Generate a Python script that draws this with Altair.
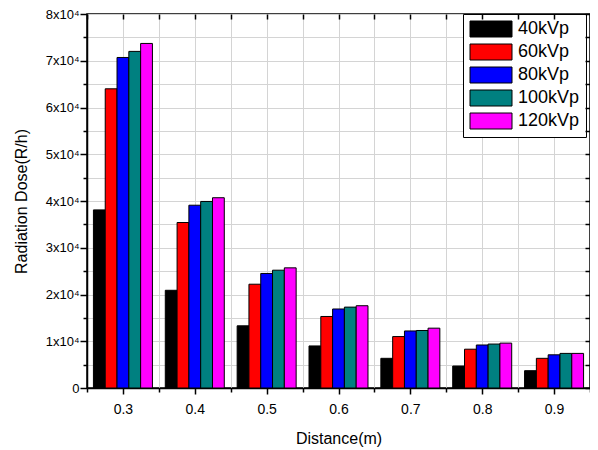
import altair as alt
import pandas as pd

distances = [0.3, 0.4, 0.5, 0.6, 0.7, 0.8, 0.9]
series = ["40kVp", "60kVp", "80kVp", "100kVp", "120kVp"]
colors = ["#000000", "#FF0000", "#0000FF", "#008080", "#FF00FF"]
v40 = [38100, 20900, 13300, 9000, 6350, 4700, 3700]
v60 = [64000, 35400, 22200, 15300, 11000, 8300, 6350]
v80 = [70700, 39100, 24500, 16900, 12200, 9200, 7100]
v100 = [72000, 39900, 25200, 17300, 12300, 9400, 7400]
v120 = [73700, 40700, 25700, 17600, 12800, 9600, 7400]
x_ticks = [round(0.25 + 0.05 * i, 2) for i in range(15)]
y_ticks = list(range(0, 80001, 5000))

vals = [v40, v60, v80, v100, v120]
rows = []
for s, vs in zip(series, vals):
    for d, v in zip(distances, vs):
        rows.append({"dist": d, "series": s, "value": v})
df = pd.DataFrame(rows)

FONT = "Liberation Sans"
yscale = alt.Scale(domain=[0, 80000], nice=False, zero=True)
xq = alt.Scale(domain=[0.25, 0.95], nice=False, zero=False)

axes_layer = alt.Chart(df).mark_point(opacity=0).encode(
    x=alt.X("dist:Q", scale=xq,
            axis=alt.Axis(values=x_ticks, grid=True, gridColor="#d4d4d4",
                          labelExpr="round(datum.value*100)%10==0 ? format(datum.value,'.1f') : ''",
                          labelOverlap=False,
                          tickSize={"condition": {"test": "round(datum.value*100)%10==0", "value": 6}, "value": 4},
                          tickColor="black", tickWidth=1.5,
                          domainColor="black", domainWidth=1.5,
                          labelFont=FONT, labelFontSize=14, labelColor="black", labelPadding=8,
                          title="Distance(m)", titleFont=FONT, titleFontSize=16,
                          titleFontWeight="normal", titleColor="black", titlePadding=14)),
    y=alt.Y("value:Q", scale=yscale,
            axis=alt.Axis(values=y_ticks, grid=True, gridColor="#d4d4d4",
                          labelExpr="datum.value==0 ? '0' : (datum.value%10000==0 ? (datum.value/10000)+'x10⁴' : '')",
                          labelOverlap=False,
                          tickSize={"condition": {"test": "datum.value%10000==0", "value": 7}, "value": 4},
                          tickColor="black", tickWidth=1.5,
                          domainColor="black", domainWidth=1.5,
                          labelFont=FONT, labelFontSize=13, labelColor="black", labelPadding=1,
                          title="Radiation Dose(R/h)", titleFont=FONT, titleFontSize=16,
                          titleFontWeight="normal", titleColor="black", titlePadding=16)),
)

bars = alt.Chart(df).mark_bar(stroke="black", strokeWidth=1).encode(
    x=alt.X("dist:O", scale=alt.Scale(paddingInner=0, paddingOuter=0), axis=None),
    xOffset=alt.XOffset("series:N", sort=series,
                        scale=alt.Scale(paddingInner=0, paddingOuter=0.545)),
    y=alt.Y("value:Q", scale=yscale, axis=None),
    color=alt.Color("series:N", sort=series,
                    scale=alt.Scale(domain=series, range=colors),
                    legend=alt.Legend(title=None, orient="none", legendX=376, legendY=0,
                                      strokeColor="black", fillColor="white", padding=6,
                                      symbolType="M-1,-1L4.25,-1L4.25,1L-1,1Z",
                                      symbolSize=256, symbolStrokeColor="black",
                                      symbolStrokeWidth=1, symbolOpacity=1,
                                      labelFont=FONT, labelFontSize=18, labelColor="black",
                                      labelOffset=31, rowPadding=3)),
)

mirror = alt.Chart(df).mark_point(opacity=0).encode(
    x=alt.X("dist:Q", scale=xq,
            axis=alt.Axis(orient="top", values=x_ticks, grid=False, labels=False,
                          domain=False, offset=-5, tickSize=5, tickColor="black",
                          tickWidth=1.5, title=None, zindex=1)),
    y=alt.Y("value:Q", scale=yscale,
            axis=alt.Axis(orient="right", values=y_ticks, grid=False, labels=False,
                          domain=False, offset=-5, tickSize=5, tickColor="black",
                          tickWidth=1.5, title=None, zindex=1)),
)

chart = alt.layer(axes_layer, bars, mirror).resolve_scale(
    x="independent"
).resolve_axis(x="independent", y="independent").properties(
    width=503, height=374,
    autosize=alt.AutoSizeParams(type="none"),
    padding={"left": 79, "top": 6, "right": 0, "bottom": 60},
    background="white",
).configure_view(stroke="black", strokeWidth=1.5)

chart.save("out.html", embed_options={"renderer": "svg", "actions": False})
